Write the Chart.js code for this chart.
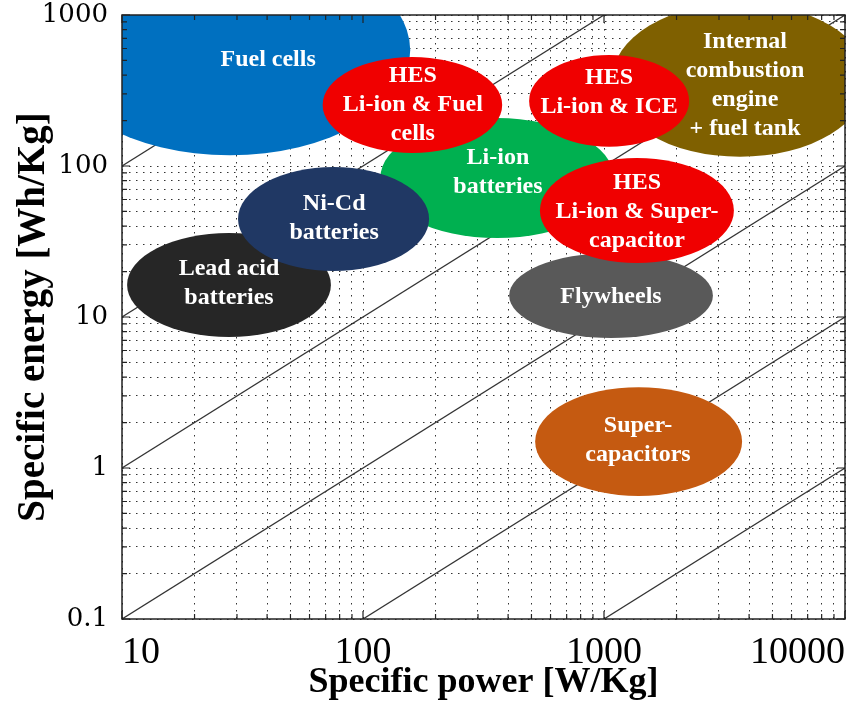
<!DOCTYPE html>
<html>
<head>
<meta charset="utf-8">
<script src="https://cdn.jsdelivr.net/npm/chart.js@4.4.1/dist/chart.umd.min.js"></script>
<style>
  html, body { margin: 0; padding: 0; background: #fff; }
  #wrap { width: 868px; height: 724px; }
</style>
</head>
<body>
<div id="wrap"><canvas id="ragone" width="868" height="724"></canvas></div>
<script>
// labelled decades on each axis
const powerDecades = [10, 100, 1000, 10000];
const energyDecades = [0.1, 1, 10, 100, 1000];

// constant discharge-time lines: [[P1, E1], [P2, E2]] in W/kg, Wh/kg
const timeLines = [
  [[10, 100], [100, 1000]],
  [[10, 10], [1000, 1000]],
  [[10, 1], [10000, 1000]],
  [[10, 0.1], [10000, 100]],
  [[100, 0.1], [10000, 10]],
  [[1000, 0.1], [10000, 1]]
];

// technology regions (drawing order)
const techLabels = [
  ['Fuel cells'],
  ['Internal', 'combustion', 'engine', '+ fuel tank'],
  ['Li-ion', 'batteries'],
  ['Lead acid', 'batteries'],
  ['Ni-Cd', 'batteries'],
  ['Flywheels'],
  ['Super-', 'capacitors'],
  ['HES', 'Li-ion & Fuel', 'cells'],
  ['HES', 'Li-ion & ICE'],
  ['HES', 'Li-ion & Super-', 'capacitor']
];
// power extent [min, max] W/kg
const techPower = [
  [5, 157], [1079, 12450], [118, 1099], [10.5, 73.6], [30.3, 188],
  [404, 2831], [518, 3741], [68, 378], [489, 2255], [542, 3459]
];
// energy extent [min, max] Wh/kg
const techEnergy = [
  [118, 2900], [115, 1200], [33.3, 208], [7.38, 36], [20.2, 98.5],
  [7.26, 26.5], [0.653, 3.43], [122, 527], [134, 543], [22.8, 113]
];
// where each label sits, in data units
const labelPower = [40.4, 3846, 363, 27.8, 75.9, 1069, 1384, 161, 1050, 1371];
const labelEnergy = [503, 344, 91, 16.6, 45.3, 13.6, 1.53, 253, 309, 49.6];

const techColors = ['#0070c0', '#7f6000', '#00b050', '#262626', '#203864',
  '#595959', '#c55a11', '#f00000', '#f00000', '#f00000'];

function logTicks(decades) {
  const out = [];
  decades.forEach((d, i) => {
    if (i === decades.length - 1) { out.push(d); return; }
    for (let m = 1; m < 10; m++) out.push(+(d * m).toPrecision(3));
  });
  return out;
}
const powerTicks = logTicks(powerDecades);
const energyTicks = logTicks(energyDecades);

const regionsPlugin = {
  id: 'regions',
  afterDatasetsDraw(chart) {
    const { ctx, chartArea: a, scales: { x, y } } = chart;
    ctx.save();
    ctx.beginPath();
    ctx.rect(a.left, a.top, a.right - a.left, a.bottom - a.top);
    ctx.clip();
    techLabels.forEach((lines, i) => {
      const [p0, p1] = techPower[i];
      const [e0, e1] = techEnergy[i];
      const x0 = x.getPixelForValue(p0), x1 = x.getPixelForValue(p1);
      const y0 = y.getPixelForValue(e0), y1 = y.getPixelForValue(e1);
      ctx.beginPath();
      ctx.ellipse((x0 + x1) / 2, (y0 + y1) / 2, Math.abs(x1 - x0) / 2, Math.abs(y1 - y0) / 2, 0, 0, Math.PI * 2);
      ctx.fillStyle = techColors[i];
      ctx.fill();
    });
    ctx.fillStyle = '#fff';
    ctx.font = 'bold 24px "Liberation Serif", "Times New Roman", serif';
    ctx.textAlign = 'center';
    ctx.textBaseline = 'middle';
    const lh = 29;
    techLabels.forEach((lines, i) => {
      const cx = x.getPixelForValue(labelPower[i]);
      const cy = y.getPixelForValue(labelEnergy[i]);
      lines.forEach((t, k) => {
        ctx.fillText(t, cx, cy + (k - (lines.length - 1) / 2) * lh);
      });
    });
    ctx.restore();
  },
  afterDraw(chart) {
    // frame with inward ticks on all four sides
    const { ctx, chartArea: a, scales: { x, y } } = chart;
    ctx.save();
    ctx.strokeStyle = '#222';
    ctx.lineWidth = 1.5;
    ctx.strokeRect(a.left, a.top, a.right - a.left, a.bottom - a.top);
    ctx.lineWidth = 1.2;
    ctx.beginPath();
    powerTicks.forEach(v => {
      const px = x.getPixelForValue(v);
      const len = powerDecades.includes(v) ? 8 : 5;
      ctx.moveTo(px, a.bottom); ctx.lineTo(px, a.bottom - len);
      ctx.moveTo(px, a.top); ctx.lineTo(px, a.top + len);
    });
    energyTicks.forEach(v => {
      const py = y.getPixelForValue(v);
      const len = energyDecades.includes(v) ? 8 : 5;
      ctx.moveTo(a.left, py); ctx.lineTo(a.left + len, py);
      ctx.moveTo(a.right, py); ctx.lineTo(a.right - len, py);
    });
    ctx.stroke();
    ctx.restore();
  }
};

const serif = '"Liberation Serif", "Times New Roman", serif';

new Chart(document.getElementById('ragone'), {
  type: 'scatter',
  data: {
    datasets: timeLines.map(seg => ({
      data: seg.map(([p, e]) => ({ x: p, y: e })),
      showLine: true,
      borderColor: '#333',
      borderWidth: 1.3,
      pointRadius: 0,
      fill: false
    }))
  },
  options: {
    responsive: false,
    animation: false,
    layout: { padding: { top: 15, right: 23, left: 0, bottom: 0 } },
    plugins: { legend: { display: false }, tooltip: { enabled: false } },
    scales: {
      x: {
        type: 'logarithmic',
        min: 10, max: 10000,
        afterBuildTicks: s => { s.ticks = powerTicks.map(v => ({ value: v })); },
        afterFit: s => { s.height = 105; s.paddingLeft = 0; s.paddingRight = 0; },
        grid: { color: '#333', lineWidth: 1, drawTicks: false },
        border: { display: false, dash: [1.5, 5.5] },
        ticks: {
          autoSkip: false, maxRotation: 0, align: 'inner', padding: 11,
          color: '#000', font: { family: serif, size: 38 },
          callback: v => powerDecades.includes(v) ? String(v) : ''
        },
        title: {
          display: true, text: 'Specific power [W/Kg]', color: '#000',
          font: { family: serif, size: 36, weight: 'bold' },
          padding: { top: 20, bottom: 20 }
        }
      },
      y: {
        type: 'logarithmic',
        min: 0.1, max: 1000,
        afterBuildTicks: s => { s.ticks = energyTicks.map(v => ({ value: v })); },
        afterFit: s => { s.width = 122; s.paddingTop = 0; s.paddingBottom = 0; },
        grid: { color: '#333', lineWidth: 1, drawTicks: false },
        border: { display: false, dash: [1.5, 5.5] },
        ticks: {
          autoSkip: false, padding: 14,
          color: '#000', font: { family: '"DejaVu Serif", serif', size: 26, lineHeight: 1 },
          callback: v => energyDecades.includes(v) ? String(v) : ''
        },
        title: {
          display: true, text: 'Specific energy [Wh/Kg]', color: '#000',
          font: { family: serif, size: 39, weight: 'bold' },
          padding: { top: 11, bottom: 11 }
        }
      }
    }
  },
  plugins: [regionsPlugin]
});
</script>
</body>
</html>
